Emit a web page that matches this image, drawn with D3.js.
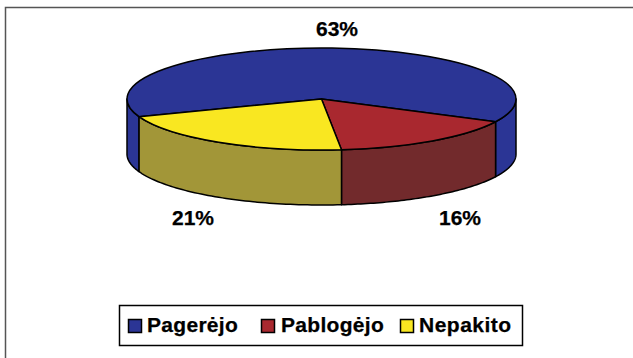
<!DOCTYPE html>
<html lang="en">
	<head>
		<meta charset="utf-8">
		<title>Pagerėjo / Pablogėjo / Nepakito</title>
		<script type="text/javascript" src="https://d3js.org/d3.v7.min.js"></script>
		<style type="text/css">
			html, body { margin: 0; padding: 0; background: #fff; }
			svg { display: block; }
			text { font-family: "Liberation Sans", Arial, sans-serif; font-weight: bold; fill: #000; stroke: #000; stroke-width: 0.25; }
			.top, .side { stroke: #000; stroke-width: 1.5; stroke-linejoin: round; vector-effect: non-scaling-stroke; }
		</style>
	</head>
	<body>
		<script type="text/javascript">

			//Data
			var categories = ["Pagerėjo", "Pablogėjo", "Nepakito"];
			var values = [63, 16, 21];
			var valueLabels = ["63%", "16%", "21%"];
			var topColors = ["#2b3595", "#a9282f", "#f9e721"];
			var sideColors = ["#2b3595", "#722a2c", "#a29638"];

			//Width and height
			var w = 633;
			var h = 358;

			//Pie geometry
			var cx = 321.5, cy = 99, rx = 194.5, ry = 51, depth = 55;
			var startAngle = 249.7 * Math.PI / 180;

			var svg = d3.select("body")
						.append("svg")
						.attr("width", w)
						.attr("height", h);

			//Frame: only the top and left edges show
			svg.append("path")
			   .attr("d", "M5.5,358V7.5H633")
			   .attr("fill", "none")
			   .attr("stroke", "#555")
			   .attr("stroke-width", 1.5);

			var pie = d3.pie()
						.sort(null)
						.startAngle(startAngle)
						.endAngle(startAngle + 2 * Math.PI);
			var slices = pie(values);

			//Angle (clockwise from 12 o'clock) to screen position on the rim
			var xScale = d3.scaleLinear().domain([-1, 1]).range([cx - rx, cx + rx]);
			var yScale = d3.scaleLinear().domain([-1, 1]).range([cy + ry, cy - ry]);

			//Side wall: area between the top rim and the same rim pushed down
			var wall = d3.area()
						 .x(function(a) { return xScale(Math.sin(a)); })
						 .y0(function(a) { return yScale(Math.cos(a)); })
						 .y1(function(a) { return yScale(Math.cos(a)) + depth; });

			//Only the front half of the rim is visible, angles 90 to 270 degrees
			var frontA = Math.PI / 2, frontB = 3 * Math.PI / 2;
			var sideParts = [];
			slices.forEach(function(d, i) {
				[0, 2 * Math.PI, -2 * Math.PI].forEach(function(turn) {
					var a0 = Math.max(d.startAngle + turn, frontA);
					var a1 = Math.min(d.endAngle + turn, frontB);
					if (a1 > a0) {
						sideParts.push({ index: i, a0: a0, a1: a1 });
					}
				});
			});

			svg.append("g")
			   .selectAll("path")
			   .data(sideParts)
			   .enter()
			   .append("path")
			   .attr("class", "side")
			   .attr("fill", function(d) { return sideColors[d.index]; })
			   .attr("d", function(d) {
			   		return wall(d3.range(0, 61).map(function(k) {
			   			return d.a0 + (d.a1 - d.a0) * k / 60;
			   		}));
			   });

			//Top face, a circle squashed to an ellipse
			var arc = d3.arc().innerRadius(0).outerRadius(rx);
			svg.append("g")
			   .attr("transform", "translate(" + cx + "," + cy + ") scale(1," + (ry / rx) + ")")
			   .selectAll("path")
			   .data(slices)
			   .enter()
			   .append("path")
			   .attr("class", "top")
			   .attr("fill", function(d, i) { return topColors[i]; })
			   .attr("d", arc);

			//Value labels
			var labelX = [337, 460, 193];
			var labelY = [36, 225, 225];
			svg.selectAll(".value")
			   .data(valueLabels)
			   .enter()
			   .append("text")
			   .attr("class", "value")
			   .attr("x", function(d, i) { return labelX[i]; })
			   .attr("y", function(d, i) { return labelY[i]; })
			   .attr("text-anchor", "middle")
			   .attr("font-size", 21)
			   .text(function(d) { return d; });

			//Legend
			svg.append("rect")
			   .attr("x", 119.5)
			   .attr("y", 305.5)
			   .attr("width", 403)
			   .attr("height", 40)
			   .attr("fill", "#fff")
			   .attr("stroke", "#000")
			   .attr("stroke-width", 1.5);

			var keyX = [128, 261, 400];
			var keyText = [147, 281, 419];
			var keySpacing = [0.3, 0.3, 0.5];
			var legend = svg.selectAll(".key")
							.data(categories)
							.enter()
							.append("g")
							.attr("class", "key");

			legend.append("rect")
				  .attr("x", function(d, i) { return keyX[i] + 0.5; })
				  .attr("y", 319.5)
				  .attr("width", 13)
				  .attr("height", 13)
				  .attr("fill", function(d, i) { return topColors[i]; })
				  .attr("stroke", "#000")
				  .attr("stroke-width", 1.5);

			legend.append("text")
				  .attr("x", function(d, i) { return keyText[i]; })
				  .attr("y", 332)
				  .attr("font-size", 21)
				  .attr("letter-spacing", function(d, i) { return keySpacing[i]; })
				  .text(function(d) { return d; });

		</script>
	</body>
</html>
